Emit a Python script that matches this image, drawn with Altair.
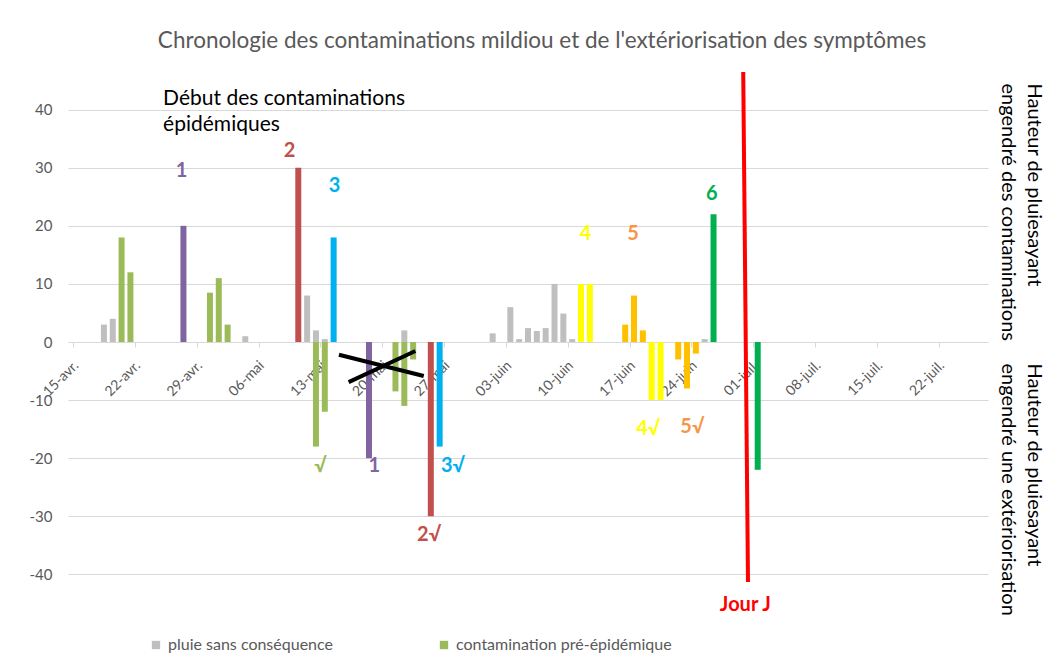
import altair as alt
import pandas as pd

FONT = "Lato"

# ---------------- data ----------------
tick_days = [0, 7, 14, 21, 28, 35, 42, 49, 56, 63, 70, 77, 84, 91, 98]
tick_labels = ["15-avr.", "22-avr.", "29-avr.", "06-mai", "13-mai", "20-mai", "27-mai",
               "03-juin", "10-juin", "17-juin", "24-juin", "01-juil.", "08-juil.",
               "15-juil.", "22-juil."]

# day index counted from 15 April
bar_days = [3, 4, 19, 26, 27, 28, 37, 47, 49, 50, 51, 52, 53, 54, 55, 56, 71,
            5, 6, 15, 16, 17, 27, 28, 36, 37, 38,
            12, 33,
            25, 40,
            29, 41,
            57, 58, 65, 66,
            62, 63, 64, 68, 69, 70,
            72, 77]
bar_values = [3, 4, 1, 8, 2, 0.5, 2, 1.5, 6, 0.5, 2.4, 1.9, 2.4, 10, 4.9, 0.5, 0.5,
              18, 12, 8.5, 11, 3, -18, -12, -8.5, -11, -3,
              20, -20,
              30, -30,
              18, -18,
              10, 10, -10, -10,
              3, 8, 2, -3, -8, -2,
              22, -22]
bar_groups = (["pluie sans conséquence"] * 17
              + ["contamination pré-épidémique"] * 10
              + ["contamination 1"] * 2
              + ["contamination 2"] * 2
              + ["contamination 3"] * 2
              + ["contamination 4"] * 4
              + ["contamination 5"] * 6
              + ["contamination 6"] * 2)

group_names = ["pluie sans conséquence", "contamination pré-épidémique",
               "contamination 1", "contamination 2", "contamination 3",
               "contamination 4", "contamination 5", "contamination 6"]
group_colors = ["#BFBFBF", "#9BBB59", "#8064A2", "#C0504D", "#00B0F0",
                "#FFFF00", "#FFC000", "#00B050"]

label_texts = ["1", "2", "3", "4", "5", "6", "√", "1", "2√", "3√", "4√", "5√", "Jour J"]
label_x = [12.3, 24.5, 29.6, 58.0, 63.4, 72.3, 28.0, 34.1, 40.3, 43.0, 65.1, 70.1, 76.1]
label_y = [29.5, 32.8, 26.9, 18.6, 18.6, 25.5, -21.3, -21.3, -33.3, -21.3, -14.9, -14.6, -45.2]
label_groups = ["1", "2", "3", "4", "5", "6", "pre", "1", "2", "3", "4", "5", "J"]
label_group_names = ["pre", "1", "2", "3", "4", "5", "6", "J"]
label_group_colors = ["#9BBB59", "#8064A2", "#C0504D", "#00B0F0", "#FFFF00",
                      "#F79646", "#00B050", "#FF0000"]

jour_x = [75.86, 76.4]
jour_y = [46.5, -41.3]

cross_x = [30.1, 39.7, 31.2, 38.75]
cross_y = [-2.2, -5.85, -6.9, -1.55]
cross_id = ["a", "a", "b", "b"]

note_texts = ["Début des contaminations", "épidémiques"]
note_x = [10.2, 10.2]
note_y = [41.9, 37.4]

side_texts = ["Hauteur de pluiesayant", "engendré des contaminations",
              "Hauteur de pluiesayant", "engendré une extériorisation"]
side_x = [108.8, 105.8, 108.8, 105.8]
side_y = [44.5, 44.5, -3.7, -3.7]

y_ticks = [-40, -30, -20, -10, 0, 10, 20, 30, 40]
Y_MIN, Y_MAX = -42, 47
X_MIN, X_MAX = 0, 103

# ---------------- layout ----------------
W, H = 920, 517
axis_offset = -H * (0 - Y_MIN) / (Y_MAX - Y_MIN)

xscale = alt.Scale(domain=[X_MIN, X_MAX], nice=False, zero=False)
yscale = alt.Scale(domain=[Y_MIN, Y_MAX], nice=False, zero=False)

label_expr = "[" + ",".join("'" + t + "'" for t in tick_labels) + "][datum.value / 7]"

bars_df = pd.DataFrame({"day": bar_days, "value": bar_values, "group": bar_groups})
labels_df = pd.DataFrame({"x": label_x, "y": label_y, "t": label_texts, "g": label_groups})
jour_df = pd.DataFrame({"x": jour_x, "y": jour_y})
cross_df = pd.DataFrame({"x": cross_x, "y": cross_y, "id": cross_id})
note_df = pd.DataFrame({"x": note_x, "y": note_y, "t": note_texts})
side_df = pd.DataFrame({"x": side_x, "y": side_y, "t": side_texts})

bars = alt.Chart(bars_df).transform_calculate(
    pos="datum.day + 0.5"
).mark_bar(size=6).encode(
    x=alt.X("pos:Q", scale=xscale,
            axis=alt.Axis(values=tick_days, labelExpr=label_expr, labelAngle=315,
                          labelAlign="right", labelBaseline="middle", grid=False,
                          domainColor="#D9D9D9", tickColor="#D9D9D9", tickSize=5,
                          labelColor="#595959", labelFontSize=14, labelFont=FONT,
                          labelPadding=16, labelOffset=3, offset=axis_offset,
                          title=None, labelOverlap=False)),
    y=alt.Y("value:Q", scale=yscale, stack=None,
            axis=alt.Axis(values=y_ticks, labelExpr="'' + datum.value", grid=True,
                          gridColor="#D9D9D9", domain=False, ticks=False,
                          labelPadding=16, labelColor="#595959", labelFontSize=15,
                          labelFont=FONT, title=None)),
    color=alt.Color("group:N", title=None,
                    scale=alt.Scale(domain=group_names, range=group_colors),
                    legend=alt.Legend(values=group_names[:2], orient="none",
                                      legendX=80, legendY=568, direction="horizontal",
                                      symbolType="square", symbolSize=70,
                                      symbolStrokeWidth=0, labelLimit=400,
                                      labelFontSize=16, labelColor="#595959",
                                      labelFont=FONT, columnPadding=103)),
)

jour = alt.Chart(jour_df).mark_line(color="#FF0000", strokeWidth=4, clip=False).encode(
    x=alt.X("x:Q", scale=xscale), y=alt.Y("y:Q", scale=yscale)
)

cross = alt.Chart(cross_df).mark_line(color="#000000", strokeWidth=4).encode(
    x=alt.X("x:Q", scale=xscale), y=alt.Y("y:Q", scale=yscale), detail="id:N"
)

labels = alt.Chart(labels_df).mark_text(
    font=FONT, fontSize=20, fontWeight="bold", baseline="middle", align="center", clip=False
).encode(
    x=alt.X("x:Q", scale=xscale), y=alt.Y("y:Q", scale=yscale), text="t:N",
    color=alt.Color("g:N", scale=alt.Scale(domain=label_group_names, range=label_group_colors),
                    legend=None)
)

note = alt.Chart(note_df).mark_text(
    font=FONT, fontSize=21, align="left", baseline="middle", color="#000000"
).encode(x=alt.X("x:Q", scale=xscale), y=alt.Y("y:Q", scale=yscale), text="t:N")

side = alt.Chart(side_df).mark_text(
    font=FONT, fontSize=20, align="left", baseline="middle", angle=90,
    color="#000000", clip=False
).encode(x=alt.X("x:Q", scale=xscale), y=alt.Y("y:Q", scale=yscale), text="t:N")

chart = alt.layer(bars, cross, jour, labels, note, side).resolve_scale(
    color="independent"
).properties(
    width=W, height=H,
    autosize=alt.AutoSizeParams(type="none"),
    padding={"left": 60, "top": 61, "right": 65, "bottom": 70},
    title=alt.TitleParams(
        "Chronologie des contaminations mildiou et de l'extériorisation des symptômes",
        font=FONT, fontSize=22.5, fontWeight="normal", color="#595959",
        anchor="middle", dx=14, offset=11),
).configure_view(stroke="transparent")

chart.save("out.html", embed_options={"renderer": "svg", "actions": False})
